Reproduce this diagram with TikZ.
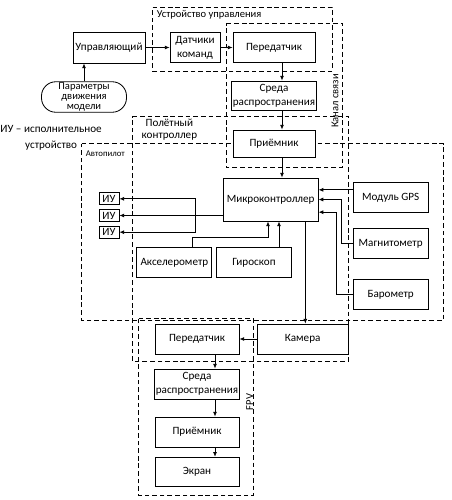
\documentclass[tikz,border=0pt]{standalone}
\usepackage{fontspec}
\setmainfont{Carlito}
\usetikzlibrary{calc,arrows.meta,backgrounds}

\begin{document}
\begin{tikzpicture}[>={Latex[length=4pt,width=3.4pt]}, line width=0.7pt, font=\fontsize{9.5}{12}\selectfont]
        \tikzstyle {bloc} = [rectangle, draw=black, fill=white, minimum width=2.25cm, minimum height=0.9cm, align=center, inner sep=1pt]
        \tikzstyle {iu} = [rectangle, draw=black, fill=white, minimum width=0.6cm, minimum height=0.36cm, inner sep=0pt]
        \tikzstyle {cadre} = [dash pattern=on 4pt off 2.5pt]
        \useasboundingbox (0,0) rectangle (13.56,-15);
        % Управление
        \node (upravl) [bloc, minimum width=2.16cm, minimum height=0.93cm] at (3.27,-1.425) {Управляющий};
        \node (datchiki) [bloc, minimum width=1.5cm, right of=upravl, xshift=1.58cm] {Датчики\\команд};
        \node (peredatchik) [bloc, minimum width=2.46cm, right of=datchiki, xshift=1.37cm] {Передатчик};
        \node (parametry) [bloc, rounded corners=0.43cm, minimum width=2.55cm, minimum height=0.87cm, font=\fontsize{9}{8.4}\selectfont, below of=upravl, xshift=-0.75cm, yshift=-0.485cm] {Параметры\\движения\\модели};
        \draw[->] (upravl.east) -- (datchiki.west);
        \draw[->] (datchiki.east) -- (peredatchik.west);
        \draw[->] (parametry.north) -- (parametry.north |- upravl.south);
        % Канал связи
        \node (sreda) [bloc, minimum width=2.46cm, minimum height=0.87cm, below of=peredatchik, yshift=-0.44cm] {Среда\\распространения};
        \node (priemnik) [bloc, minimum width=2.46cm, minimum height=0.81cm, below of=sreda, yshift=-0.44cm] {Приёмник};
        \draw[->] ([xshift=0.24cm]peredatchik.south) -- ([xshift=0.24cm]sreda.north);
        \draw[->] ([xshift=0.24cm]sreda.south) -- ([xshift=0.24cm]priemnik.north);
        % Автопилот
        \node (mk) [bloc, minimum width=2.85cm, minimum height=1.29cm, below of=priemnik, xshift=-0.1cm, yshift=-0.68cm] {Микроконтроллер};
        \draw[->] ([xshift=0.24cm]priemnik.south) -- ([xshift=0.24cm]priemnik.south |- mk.north);
        \node (gps) [bloc, right of=mk, xshift=2.6cm, yshift=0.05cm] {Модуль GPS};
        \node (magnitometr) [bloc, below of=gps, yshift=-0.38cm] {Магнитометр};
        \node (barometr) [bloc, below of=magnitometr, yshift=-0.53cm] {Барометр};
        \node (giroskop) [bloc, below of=mk, xshift=-0.5cm, yshift=-0.9cm] {Гироскоп};
        \node (akselerometr) [bloc, left of=giroskop, xshift=-1.39cm] {Акселерометр};
        \node (iu_2) [iu, left of=mk, xshift=-3.85cm, yshift=-0.48cm] {ИУ};
        \node (iu_1) [iu, above of=iu_2, yshift=-0.5cm] {ИУ};
        \node (iu_3) [iu, below of=iu_2, yshift=0.5cm] {ИУ};
        \draw[->] (mk.west |- iu_2) -- (iu_2.east);
        \coordinate (razvetvl) at ($(iu_2.east)+(2.28,0)$);
        \draw[->] (razvetvl) |- (iu_1.east);
        \draw[->] (razvetvl) |- (iu_3.east);
        \draw[->] ([xshift=0.55cm]akselerometr.north) -- ++(0,0.3) -| ([xshift=-0.08cm]mk.south);
        \draw[->] ([xshift=0.75cm]giroskop.north) -- ([xshift=0.75cm]giroskop.north |- mk.south);
        \draw[->] ([yshift=0.24cm]gps.west) -- ([yshift=0.24cm]gps.west -| mk.east);
        \draw[->] (magnitometr.west) -- ++(-0.33,0) |- (mk.east);
        \draw[->] (barometr.west) -- ++(-0.48,0) |- ([yshift=-0.38cm]mk.east);
        % FPV
        \node (kamera) [bloc, minimum width=2.73cm, below of=mk, xshift=0.96cm, yshift=-3.185cm] {Камера};
        \node (fpv_peredatchik) [bloc, minimum width=2.52cm, left of=kamera, xshift=-2.17cm] {Передатчик};
        \node (fpv_sreda) [bloc, minimum width=2.52cm, below of=fpv_peredatchik, yshift=-0.35cm] {Среда\\распространения};
        \node (fpv_priemnik) [bloc, minimum width=2.52cm, below of=fpv_sreda, yshift=-0.44cm] {Приёмник};
        \node (ekran) [bloc, minimum width=2.52cm, minimum height=0.87cm, below of=fpv_priemnik, yshift=-0.19cm] {Экран};
        \draw[->] ([xshift=1.04cm]mk.south) -- ([xshift=1.04cm]mk.south |- kamera.north);
        \draw[->] (kamera.west) -- (fpv_peredatchik.east);
        \draw[->] ([xshift=0.54cm]fpv_peredatchik.south) -- ([xshift=0.54cm]fpv_sreda.north);
        \draw[->] ([xshift=0.54cm]fpv_sreda.south) -- ([xshift=0.54cm]fpv_priemnik.north);
        \draw[->] ([xshift=0.54cm]fpv_priemnik.south) -- ([xshift=0.54cm]ekran.north);
        % Рамки (под блоками)
        \begin{scope}[on background layer]
        % Устройство управления
        \coordinate (uu_haut_gauche) at ($(datchiki.north west)+(-0.51,0.75)$);
        \coordinate (uu_bas_droite) at ($(peredatchik.south east)+(0.51,-0.24)$);
        \draw[cadre] (uu_haut_gauche) -| (uu_bas_droite) -| (uu_haut_gauche);
        \node (label_uu) [anchor=west, inner sep=0pt, font=\fontsize{9}{11}\selectfont] at ($(uu_haut_gauche)+(0.12,-0.24)$) {Устройство управления};
        % Канал связи
        \coordinate (ks_haut_gauche) at ($(peredatchik.north west)+(-0.18,0.27)$);
        \coordinate (ks_bas_droite) at ($(priemnik.south east)+(0.81,-0.3)$);
        \draw[cadre] (ks_haut_gauche) -| (ks_bas_droite) -| (ks_haut_gauche);
        \node (label_ks) [rotate=90, inner sep=0pt, font=\fontsize{9}{11}\selectfont] at ($(sreda.east)+(0.55,-0.165)$) {Канал связи};
        % Полётный контроллер
        \coordinate (pk_haut_gauche) at ($(akselerometr.west |- priemnik.north)+(-0.12,0.39)$);
        \coordinate (pk_bas_droite) at ($(kamera.south east)+(0,-0.21)$);
        \draw[cadre] (pk_haut_gauche) -| (pk_bas_droite) -| (pk_haut_gauche);
        \node (label_pk) [align=center, inner sep=0pt, font=\fontsize{9.5}{11}\selectfont] at ($(pk_haut_gauche)+(1.11,-0.39)$) {Полётный\\контроллер};
        % Автопилот
        \coordinate (ap_haut_gauche) at ($(iu_1.west |- priemnik)+(-0.51,0)$);
        \coordinate (ap_bas_droite) at ($(barometr.south east)+(0.45,-0.3)$);
        \draw[cadre] (ap_haut_gauche) -| (ap_bas_droite) -| (ap_haut_gauche);
        \node (label_ap) [anchor=west, inner sep=0pt, font=\fontsize{7.5}{9}\selectfont] at ($(ap_haut_gauche)+(0.12,-0.3)$) {Автопилот};
        \node (legende) [align=center, inner sep=0pt, font=\fontsize{9.5}{13.5}\selectfont] at ($(ap_haut_gauche)+(-0.915,0.165)$) {ИУ – исполнительное\\устройство};
        % FPV
        \coordinate (fpv_haut_gauche) at ($(fpv_peredatchik.north west)+(-0.48,0.15)$);
        \coordinate (fpv_bas_droite) at ($(ekran.south east)+(0.42,-0.27)$);
        \draw[cadre] (fpv_haut_gauche) -| (fpv_bas_droite) -| (fpv_haut_gauche);
        \node (label_fpv) [rotate=90, inner sep=0pt, font=\fontsize{9}{11}\selectfont] at ($(fpv_sreda.east)+(0.3,-0.54)$) {FPV};
        \end{scope}
\end{tikzpicture}
\end{document}
